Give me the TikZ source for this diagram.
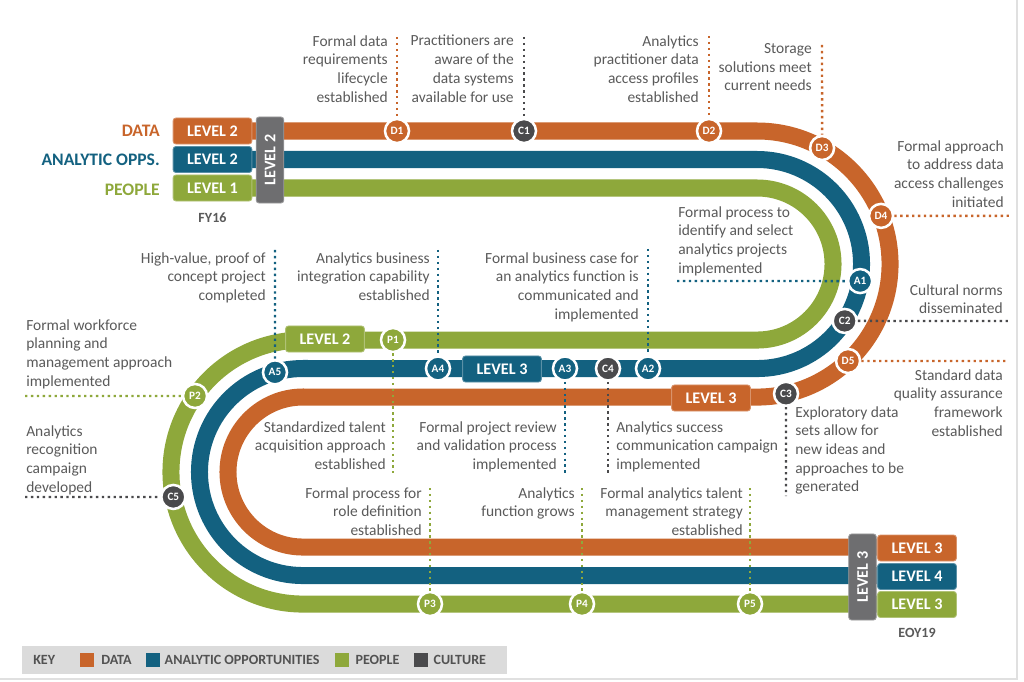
\documentclass[tikz,border=0pt]{standalone}
\usepackage{fontspec}
\setmainfont{Carlito}
\usetikzlibrary{positioning}
\definecolor{datac}{HTML}{C8652B}
\definecolor{oppsc}{HTML}{136180}
\definecolor{peoplec}{HTML}{8EA83B}
\definecolor{cultc}{HTML}{4A4A4C}
\definecolor{txtc}{HTML}{5A5A5A}
\newcommand\lbfont{\fontsize{11}{13.3}\selectfont}
\newcommand\lvfont{\fontsize{11.5}{12}\selectfont\bfseries}
\newcommand\mkfont{\fontsize{8}{8}\selectfont\bfseries}

\begin{document}
\begin{tikzpicture}[
    x=0.025cm, y=0.025cm,
    trk/.style={line width=0.425cm, draw=#1},
    lvl/.style={fill=#1, draw=#1!70!white, line width=0.6pt, rounded corners=2pt,
                minimum width=1.97cm, minimum height=0.65cm, inner sep=0pt,
                text=white, font=\lvfont},
    bar/.style={fill=cultc!80!white, draw=cultc!55!white, line width=0.6pt,
                rounded corners=2pt, minimum width=2.15cm, minimum height=0.69cm,
                inner sep=0pt, rotate=90, text=white, font=\lvfont},
    mk/.style={circle, fill=#1, draw=white, line width=1.8pt, minimum size=0.6cm,
               inner sep=0pt, text=white, font=\mkfont},
    lead/.style={draw=#1, line width=1.7pt, dash pattern=on 1.7pt off 2.5pt},
    lblr/.style={font=\lbfont, text=txtc, inner sep=0pt, align=right, anchor=north east},
    lbll/.style={font=\lbfont, text=txtc, inner sep=0pt, align=left, anchor=north west},
    trkname/.style={font=\fontsize{12.5}{13}\selectfont\bfseries, anchor=east, inner sep=0pt},
    yr/.style={font=\fontsize{10}{12}\selectfont\bfseries, text=txtc, inner sep=0pt},
    ksq/.style={fill=#1, minimum size=0.35cm, inner sep=0pt},
    kt/.style={font=\fontsize{10}{12}\selectfont\bfseries, text=black!68, inner sep=0pt},
  ]
  \useasboundingbox (0,0) rectangle (1024,-682);
  \draw[black!12, line width=0.8pt] (1017,0) -- (1017,-679) -- (0,-679);

  \coordinate (rc) at (757,-264);
  \coordinate (lc) at (303,-472);

  % tracks
  \draw[trk=datac]   (215,-131) -- (757,-131) arc[start angle=90, end angle=-90, radius=3.325cm]
        -- (303,-397) arc[start angle=90, end angle=270, radius=1.875cm] -- (915,-547);
  \draw[trk=oppsc]   (215,-159.5) -- (757,-159.5) arc[start angle=90, end angle=-90, radius=2.6125cm]
        -- (303,-368.5) arc[start angle=90, end angle=270, radius=2.5875cm] -- (915,-575.5);
  \draw[trk=peoplec] (215,-188) -- (757,-188) arc[start angle=90, end angle=-90, radius=1.9cm]
        -- (303,-340) arc[start angle=90, end angle=270, radius=3.3cm] -- (915,-604);

  \node[trkname, text=datac]   (nD) at (160,-131) {DATA};
  \node[trkname, text=oppsc]   (nA) at (160,-160) {ANALYTIC OPPS.};
  \node[trkname, text=peoplec] (nP) at (160,-190) {PEOPLE};

  \node[lvl=datac]   (lvD0) at (212.5,-131)   {LEVEL 2};
  \node[lvl=oppsc]   (lvA0) at (212.5,-159.5) {LEVEL 2};
  \node[lvl=peoplec] (lvP0) at (212.5,-188)   {LEVEL 1};
  \node[bar] (lv0) at (270,-160) {LEVEL 2};
  \node[yr, below=0.28cm of lvP0] (fy16) {FY16};

  \node[lvl=peoplec] (lvP1) at (325,-339)   {LEVEL 2};
  \node[lvl=oppsc]   (lvA1) at (502,-369)   {LEVEL 3};
  \node[lvl=datac]   (lvD1) at (711,-398)   {LEVEL 3};

  \node[lvl=datac]   (lvD2) at (917,-548)   {LEVEL 3};
  \node[lvl=oppsc]   (lvA2) at (917,-576.5) {LEVEL 4};
  \node[lvl=peoplec] (lvP2) at (917,-604.5) {LEVEL 3};
  \node[bar] (lv2) at (862.5,-577) {LEVEL 3};
  \node[yr, below=0.25cm of lvP2] (eoy19) {EOY19};

  % milestones
  \node[mk=datac] (D1) at (397,-131) {D1};
  \node[mk=cultc] (C1) at (524,-131) {C1};
  \node[mk=datac] (D2) at (709,-131) {D2};
  \node[mk=datac] (D3) at ([shift={(60.7:3.325cm)}]rc) {D3};
  \node[mk=datac] (D4) at ([shift={(21.2:3.325cm)}]rc) {D4};
  \node[mk=oppsc] (A1) at ([shift={(-9.4:2.6125cm)}]rc) {A1};
  \node[mk=cultc] (C2) at ([shift={(-33:2.6125cm)}]rc) {C2};
  \node[mk=datac] (D5) at ([shift={(-46.8:3.325cm)}]rc) {D5};
  \node[mk=cultc] (C3) at ([shift={(-77.4:3.325cm)}]rc) {C3};
  \node[mk=oppsc] (A2) at (648,-368.5) {A2};
  \node[mk=cultc] (C4) at (608,-368.5) {C4};
  \node[mk=oppsc] (A3) at (565,-368.5) {A3};
  \node[mk=oppsc] (A4) at (438,-368.5) {A4};
  \node[mk=peoplec] (P1) at (393,-340) {P1};
  \node[mk=oppsc] (A5) at ([shift={(105.7:2.5875cm)}]lc) {A5};
  \node[mk=peoplec] (P2) at ([shift={(144.85:3.3cm)}]lc) {P2};
  \node[mk=cultc] (C5) at ([shift={(190.9:3.3cm)}]lc) {C5};
  \node[mk=peoplec] (P3) at (430,-604) {P3};
  \node[mk=peoplec] (P4) at (582,-604) {P4};
  \node[mk=peoplec] (P5) at (750,-604) {P5};

  \coordinate (eD1) at (397,-37);
  \coordinate (eC1) at (524,-37);
  \coordinate (eD2) at (709,-36);
  \coordinate (eD3) at (822,-45);
  \coordinate (eD4) at (1010,-215.8);
  \coordinate (eA1) at (677,-281);
  \coordinate (eC2) at (1008,-321);
  \coordinate (eD5) at (1008,-361);
  \coordinate (eC3) at (786,-496);
  \coordinate (eA2) at (648,-249);
  \coordinate (eC4) at (608,-473);
  \coordinate (eA3) at (565,-473);
  \coordinate (eA4) at (438,-250);
  \coordinate (eP1) at (393,-473);
  \coordinate (eA5) at (275,-250);
  \coordinate (eP2) at (25,-396);
  \coordinate (eC5) at (25,-497);
  \coordinate (eP3) at (430,-488);
  \coordinate (eP4) at (582,-488);
  \coordinate (eP5) at (750,-488);

  \draw[lead=datac] (eD1) -- (D1);
  \draw[lead=cultc] (eC1) -- (C1);
  \draw[lead=datac] (eD2) -- (D2);
  \draw[lead=datac] (eD3) -- (D3);
  \draw[lead=datac] (D4) -- (eD4);
  \draw[lead=oppsc] (eA1) -- (A1);
  \draw[lead=cultc] (C2) -- (eC2);
  \draw[lead=datac] (D5) -- (eD5);
  \draw[lead=cultc] (C3) -- (eC3);
  \draw[lead=oppsc] (eA2) -- (A2);
  \draw[lead=cultc] (C4) -- (eC4);
  \draw[lead=oppsc] (A3) -- (eA3);
  \draw[lead=oppsc] (eA4) -- (A4);
  \draw[lead=peoplec] (P1) -- (eP1);
  \draw[lead=oppsc] (eA5) -- (A5);
  \draw[lead=peoplec] (eP2) -- (P2);
  \draw[lead=cultc] (eC5) -- (C5);
  \draw[lead=peoplec] (eP3) -- (P3);
  \draw[lead=peoplec] (eP4) -- (P4);
  \draw[lead=peoplec] (eP5) -- (P5);

  % milestone texts
  \node[lblr] (tD1) at (388,-35) {Formal data\\requirements\\lifecycle\\established};
  \node[lblr] (tC1) at (514,-35) {Practitioners are\\aware of the\\data systems\\available for use};
  \node[lblr] (tD2) at (699,-35) {Analytics\\practitioner data\\access profiles\\established};
  \node[lblr] (tD3) at (812,-43) {Storage\\solutions meet\\current needs};
  \node[lblr] (tD4) at (1004,-140) {Formal approach\\to address data\\access challenges\\initiated};
  \node[lbll] (tA1) at (678,-206) {Formal process to\\identify and select\\analytics projects\\implemented};
  \node[lblr] (tC2) at (1003,-284) {Cultural norms\\disseminated};
  \node[lblr] (tD5) at (1003,-369) {Standard data\\quality assurance\\framework\\established};
  \node[lbll] (tC3) at (795,-406) {Exploratory data\\sets allow for\\new ideas and\\approaches to be\\generated};
  \node[lblr] (tA2) at (639,-252) {Formal business case for\\an analytics function is\\communicated and\\implemented};
  \node[lblr] (tA4) at (430,-252) {Analytics business\\integration capability\\established};
  \node[lblr] (tA5) at (266,-252) {High-value, proof of\\concept project\\completed};
  \node[lbll] (tP2) at (26,-319) {Formal workforce\\planning and\\management approach\\implemented};
  \node[lbll] (tC5) at (26,-425) {Analytics\\recognition\\campaign\\developed};
  \node[lblr] (tP1) at (386,-421) {Standardized talent\\acquisition approach\\established};
  \node[lblr] (tA3) at (557,-421) {Formal project review\\and validation process\\implemented};
  \node[lbll] (tC4) at (616,-421) {Analytics success\\communication campaign\\implemented};
  \node[lblr] (tP3) at (422,-487) {Formal process for\\role definition\\established};
  \node[lblr] (tP4) at (575,-487) {Analytics\\function grows};
  \node[lblr] (tP5) at (743,-487) {Formal analytics talent\\management strategy\\established};

  % key
  \node[fill=black!14, minimum width=12.125cm, minimum height=0.7cm, inner sep=0pt] (key) at (264.5,-660) {};
  \node[kt, anchor=west] (kKey) at (33,-660) {KEY};
  \node[ksq=datac, right=0.6cm of kKey] (kD) {};
  \node[kt, right=0.175cm of kD] (kDt) {DATA};
  \node[ksq=oppsc, right=0.35cm of kDt] (kA) {};
  \node[kt, right=0.1cm of kA] (kAt) {ANALYTIC OPPORTUNITIES};
  \node[ksq=peoplec, right=0.375cm of kAt] (kP) {};
  \node[kt, right=0.15cm of kP] (kPt) {PEOPLE};
  \node[ksq=cultc, right=0.35cm of kPt] (kC) {};
  \node[kt, right=0.125cm of kC] (kCt) {CULTURE};
\end{tikzpicture}
\end{document}
